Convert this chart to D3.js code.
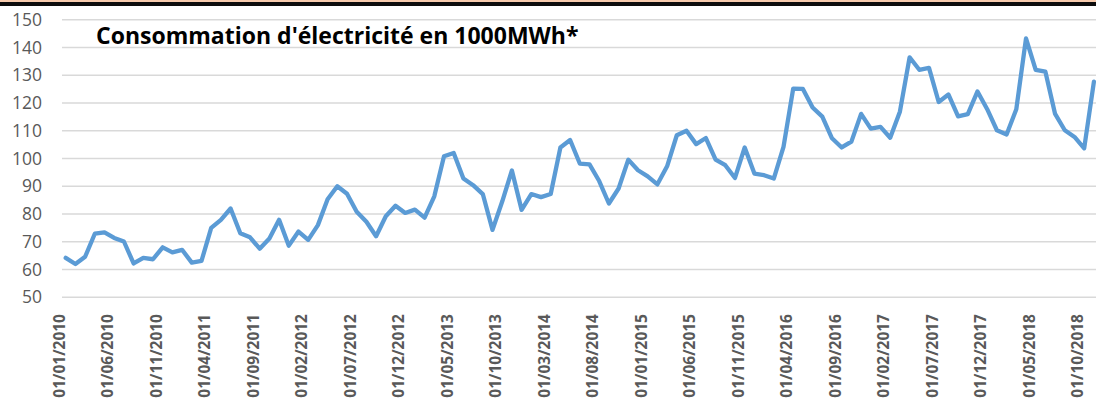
<!DOCTYPE html>
<html lang="fr">
<head>
  <meta charset="UTF-8">
  <title>Consommation d'électricité</title>
  <script src="https://d3js.org/d3.v7.min.js"></script>
  <style>
    body { margin: 0; background: #fff; font-family: "Open Sans", sans-serif; }
    svg { display: block; }
    .grid line { stroke: #d9d9d9; stroke-width: 1.5px; }
    .yaxis text { font-size: 17.5px; fill: #595959; }
    .xaxis text { font-size: 15.5px; font-weight: bold; fill: #595959; }
    .serie { fill: none; stroke: #5b9bd5; stroke-width: 4.3px; stroke-linejoin: round; stroke-linecap: round; }
    .title { font-size: 23px; font-weight: bold; fill: #000; }
  </style>
</head>
<body>
  <svg width="1096" height="405"></svg>

  <script>
    // consommation mensuelle, janvier 2010 -> novembre 2018 (1000 MWh)
    const startYear = 2010;
    const values = [
      64.0, 61.8, 64.4, 72.7, 73.2, 71.2, 69.9, 62.0, 64.0, 63.5,
      67.8, 66.0, 66.9, 62.3, 62.9, 74.8, 77.7, 81.8, 72.9, 71.4,
      67.3, 71.0, 77.7, 68.4, 73.5, 70.5, 75.8, 85.1, 89.8, 87.1,
      80.6, 77.0, 71.8, 79.0, 82.8, 80.2, 81.4, 78.5, 86.2, 100.6,
      101.8, 92.6, 90.2, 87.0, 74.1, 84.3, 95.5, 81.3, 87.0, 85.9,
      87.0, 103.8, 106.5, 98.0, 97.7, 91.7, 83.6, 89.0, 99.4, 95.6,
      93.4, 90.5, 97.0, 108.2, 109.8, 105.0, 107.2, 99.4, 97.4, 92.8,
      103.8, 94.4, 93.8, 92.6, 104.0, 125.0, 124.9, 118.2, 114.9, 107.1,
      103.8, 105.9, 115.9, 110.6, 111.2, 107.3, 116.7, 136.3, 131.8, 132.5,
      120.2, 122.9, 115.0, 115.8, 124.0, 117.6, 110.0, 108.5, 117.6, 143.1,
      131.8, 131.1, 115.9, 110.0, 107.6, 103.5, 127.5
    ];
    const tickLabels = [
      "01/01/2010", "01/06/2010", "01/11/2010", "01/04/2011", "01/09/2011",
      "01/02/2012", "01/07/2012", "01/12/2012", "01/05/2013", "01/10/2013",
      "01/03/2014", "01/08/2014", "01/01/2015", "01/06/2015", "01/11/2015",
      "01/04/2016", "01/09/2016", "01/02/2017", "01/07/2017", "01/12/2017",
      "01/05/2018", "01/10/2018"
    ];
    const yTicks = [50, 60, 70, 80, 90, 100, 110, 120, 130, 140, 150];
    const title = "Consommation d'électricité en 1000MWh*";

    const fmt = d3.timeFormat("%d/%m/%Y");
    const categories = values.map((v, i) => fmt(new Date(startYear, i, 1)));
    const data = values.map((v, i) => ({ cat: categories[i], value: v }));

    const svg = d3.select("svg");

    // bandeau du haut
    svg.append("rect").attr("x", 0).attr("y", 0).attr("width", 1096).attr("height", 2).attr("fill", "#f8cbad");
    svg.append("rect").attr("x", 0).attr("y", 2).attr("width", 1096).attr("height", 4).attr("fill", "#0d0d0d");

    const x = d3.scalePoint()
        .domain(categories)
        .range([65.7, 65.7 + 9.7 * (categories.length - 1)]);

    const y = d3.scaleLinear()
        .domain([50, 150])
        .range([296.7, 19.3]);

    // grille
    svg.append("g")
        .attr("class", "grid")
        .attr("transform", "translate(62,0)")
        .call(d3.axisLeft(y).tickValues(yTicks).tickSize(-1040).tickFormat(""))
        .call(g => g.select(".domain").remove());

    // axe y
    svg.append("g")
        .attr("class", "yaxis")
        .attr("transform", "translate(42,0)")
        .call(d3.axisLeft(y).tickValues(yTicks).tickSize(0).tickPadding(0))
        .call(g => g.select(".domain").remove())
        .selectAll("text")
          .attr("font-family", "'Open Sans', sans-serif")
          .attr("dy", "0.35em");

    // axe x
    svg.append("g")
        .attr("class", "xaxis")
        .attr("transform", "translate(-7,314)")
        .call(d3.axisBottom(x).tickValues(tickLabels).tickSize(0))
        .call(g => g.select(".domain").remove())
        .selectAll("text")
          .attr("font-family", "'Open Sans', sans-serif")
          .attr("transform", "rotate(-90)")
          .attr("text-anchor", "end")
          .attr("x", 0)
          .attr("y", 0)
          .attr("dy", "0.35em");

    // courbe
    const line = d3.line()
        .x(d => x(d.cat))
        .y(d => y(d.value));

    svg.append("path")
        .datum(data)
        .attr("class", "serie")
        .attr("d", line);

    svg.append("text")
        .attr("class", "title")
        .attr("x", 96)
        .attr("y", 44)
        .text(title);
  </script>
</body>
</html>
